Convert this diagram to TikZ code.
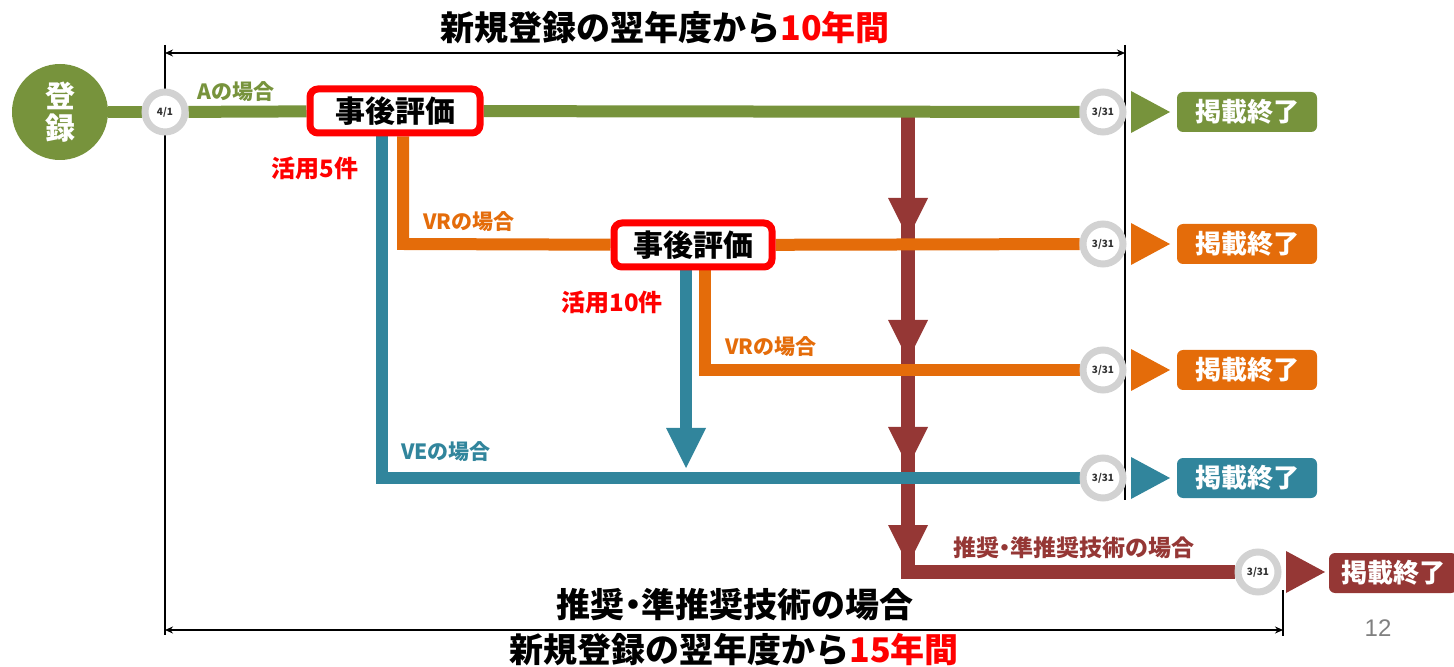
\documentclass[tikz,border=0pt]{standalone}
\usepackage{fontspec}
\setmainfont{Noto Sans CJK JP}
\newfontfamily\numfont{Liberation Sans}
\usetikzlibrary{arrows.meta,calc}
\definecolor{cgreen}{HTML}{77933C}
\definecolor{corange}{HTML}{E46C0A}
\definecolor{cteal}{HTML}{31859C}
\definecolor{cmaroon}{HTML}{953735}
\definecolor{cred}{HTML}{FF0000}
\definecolor{cring}{HTML}{D2D2D2}
\newcommand{\fsz}[1]{\fontsize{#1}{#1}\selectfont}
\newcommand{\mdot}{\kern-0.25em・\kern-0.25em}
\pgfdeclarelayer{bg}
\pgfsetlayers{bg,main}
\tikzset{
  flow/.style={line width=6pt, line join=miter},
  evalbox/.style={draw=cred, line width=3.5pt, rounded corners=4pt, fill=white,
    minimum width=84pt, minimum height=22pt, inner sep=0pt, font=\bfseries\fsz{15pt}},
  endbox/.style={rounded corners=3pt, minimum width=70pt, minimum height=20pt,
    inner sep=0pt, text=white, font=\bfseries\fsz{13pt}},
  datering/.style={circle, draw=cring, line width=3.5pt, fill=white,
    minimum size=20pt, inner sep=0pt, font=\bfseries\fsz{5pt}, text=black!80},
  lbl/.style={font=\bfseries\fsz{10.5pt}, inner sep=0pt},
  dim/.style={line width=0.6pt, {Stealth[length=4pt,width=3.5pt]}-{Stealth[length=4pt,width=3.5pt]}},
  tick/.style={line width=0.6pt}
}
\begin{document}
\begin{tikzpicture}[x=0.5pt,y=-0.5pt]
\useasboundingbox (0,0) rectangle (1454,667);

% registration circle
\node[circle, fill=cgreen, minimum size=48pt, inner sep=0pt, text=white,
  font=\bfseries\fsz{15pt}, align=center] (reg) at (60,112) {登\\[1pt]録};

% date circles
\node[datering] (d41) at (165,112) {4/1};
\node[datering] (e1) at (1103,112) {3/31};
\node[datering] (e2) at (1103,244) {3/31};
\node[datering] (e3) at (1103,370) {3/31};
\node[datering] (e4) at (1103,478) {3/31};
\node[datering] (e5) at (1258,572) {3/31};

% evaluation boxes
\node[evalbox, minimum width=85pt] (box1) at (395,111) {事後評価};
\node[evalbox, minimum width=79pt] (box2) at (693,245) {事後評価};

% end boxes
\node[endbox, fill=cgreen] (f1) at (1247,112) {掲載終了};
\node[endbox, fill=corange] (f2) at (1247,244) {掲載終了};
\node[endbox, fill=corange] (f3) at (1247,370) {掲載終了};
\node[endbox, fill=cteal] (f4) at (1247,478) {掲載終了};
\node[endbox, fill=cmaroon, minimum width=64pt] (f5) at (1393,573) {掲載終了};

% arrow heads before end boxes
\foreach \c/\col in {e1/cgreen, e2/corange, e3/corange, e4/cteal, e5/cmaroon}{
  \fill[\col] ($(\c.center)+(28,-21)$) -- ($(\c.center)+(67,0)$) -- ($(\c.center)+(28,21)$) -- cycle;
}

% corner coordinates
\coordinate (bc) at (382,478);
\coordinate (oc1) at (403,244);
\coordinate (oc2) at (705,370);
\coordinate (btip) at (686,430);
\coordinate (mtop) at (908,112);
\coordinate (mc) at (908,572);

% dimension coordinates
\coordinate (t1) at (165,45); \coordinate (t2) at (165,635);
\coordinate (t3) at (1125,45); \coordinate (t4) at (1125,500);
\coordinate (t5) at (1283,590); \coordinate (t6) at (1283,636);
\coordinate (a1) at (165,53); \coordinate (a2) at (1125,53);
\coordinate (a3) at (165,630); \coordinate (a4) at (1283,630);

\begin{pgfonlayer}{bg}
  % dimension ticks (behind the circles)
  \draw[tick] (t1) -- (t2);
  \draw[tick] (t3) -- (t4);
  \draw[tick] (t5) -- (t6);
  % maroon path (below the others)
  \draw[flow, line width=7pt, cmaroon] (mtop) -- (mc) -- (e5);
  \foreach \t in {238,360,467,565}{
    \fill[cmaroon] (888,\t-40) -- (928,\t-40) -- (908,\t) -- cycle;
  }
  % green
  \draw[flow, cgreen] (reg) -- (d41);
  \draw[flow, cgreen] (d41) -- (box1);
  \draw[flow, cgreen] (box1) -- (e1);
  % teal
  \draw[flow, cteal] (box1.south -| bc) -- (bc) -- (e4);
  \draw[flow, cteal] (box2.south -| btip) -- (btip);
  \fill[cteal] (666,428) -- (706,428) -- (686,468) -- cycle;
  % orange
  \draw[flow, corange] (box1.south -| oc1) -- (oc1) -- (box2);
  \draw[flow, corange] (box2) -- (e2);
  \draw[flow, corange] (box2.south -| oc2) -- (oc2) -- (e3);
\end{pgfonlayer}

% labels
\node[lbl, text=cgreen] (la) at (236,92) {Aの場合};
\node[lbl, text=cred, font=\bfseries\fsz{12pt}] (l5) at (315,168) {活用5件};
\node[lbl, text=corange] (lvr1) at (469,222) {VRの場合};
\node[lbl, text=cred, font=\bfseries\fsz{12pt}] (l10) at (612,302) {活用10件};
\node[lbl, text=corange] (lvr2) at (771,347) {VRの場合};
\node[lbl, text=cteal] (lve) at (446,452) {VEの場合};
\node[lbl, text=cmaroon, font=\bfseries\fsz{11.5pt}] (lrec) at (1074,548) {推奨\mdot 準推奨技術の場合};

% dimension arrows
\draw[dim] (a1) -- (a2);
\draw[dim] (a3) -- (a4);

\node[font=\bfseries\fsz{17pt}, inner sep=0pt] (title) at (665,28) {新規登録の翌年度から\textcolor{cred}{10年間}};
\node[font=\bfseries\fsz{17pt}, inner sep=0pt] (sub) at (735,605) {推奨\mdot 準推奨技術の場合};
\node[font=\bfseries\fsz{17pt}, inner sep=0pt] (title2) at (734,650) {新規登録の翌年度から\textcolor{cred}{15年間}};

\node[font=\numfont\fsz{12pt}, text=black!50, inner sep=0pt] (pg) at (1378,628) {12};
\end{tikzpicture}
\end{document}
